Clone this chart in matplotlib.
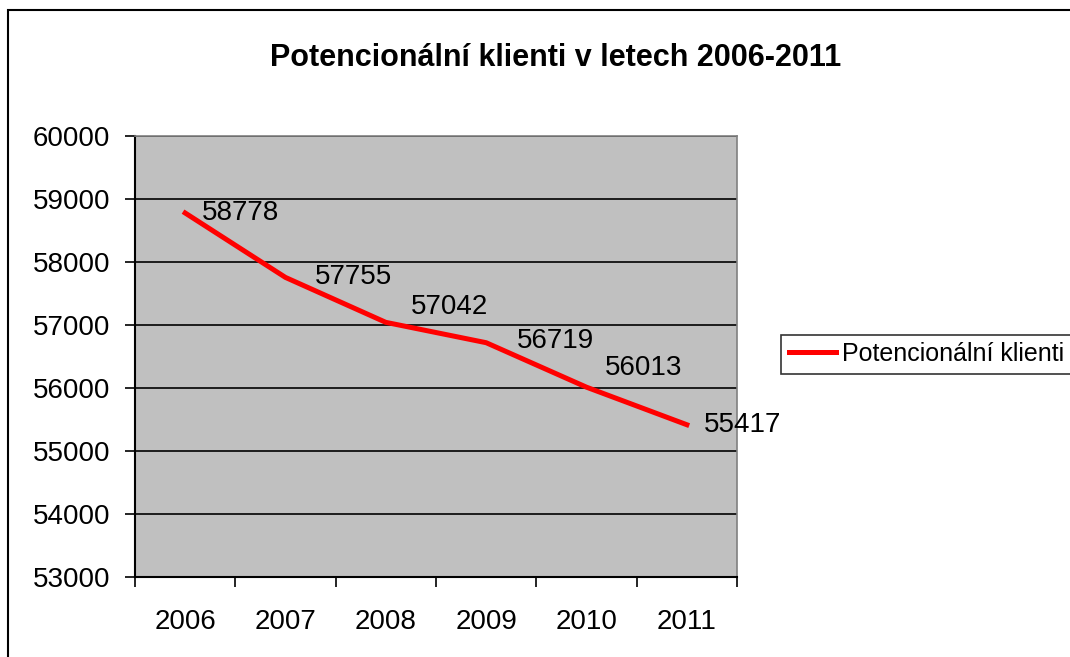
import matplotlib
matplotlib.use("Agg")
import matplotlib.pyplot as plt
from matplotlib.patches import Rectangle

years = ["2006", "2007", "2008", "2009", "2010", "2011"]
values = [58778, 57755, 57042, 56719, 56013, 55417]
series_name = "Potencionální klienti"
title = "Potencionální klienti v letech 2006-2011"
yticks = [53000, 54000, 55000, 56000, 57000, 58000, 59000, 60000]

plt.rcParams['font.family'] = ['Liberation Sans', 'DejaVu Sans']

fig = plt.figure(figsize=(10.7, 6.57), dpi=100)
fig.patch.set_facecolor('white')
# outer chart border
fig.patches.append(Rectangle((8/1070, -0.05), 1.2, 1 - 10/657 + 0.05,
                             transform=fig.transFigure, fill=False,
                             edgecolor='black', linewidth=1.5))

ax = fig.add_axes([135/1070, 1 - 577/657, (737 - 135)/1070, (577 - 136)/657])
ax.set_facecolor('#C0C0C0')

x = [i + 0.5 for i in range(len(years))]
line, = ax.plot(x, values, color='#FF0000', linewidth=3.6, label=series_name,
                solid_joinstyle='round')

# label offsets in pixels (dx right, dy up), as placed in the reference
label_offsets_px = [(17, 0), (29, 0), (25, 15), (31, 2), (18, 19), (17, 0)]
for xi, v, (dx, dy) in zip(x, values, label_offsets_px):
    ax.annotate(str(v), (xi, v), xytext=(dx * 0.72, dy * 0.72),
                textcoords='offset points',
                ha='left', va='center', fontsize=20, color='black')

ax.set_xlim(0, len(years))
ax.set_ylim(53000, 60000)
ax.set_yticks(yticks)
ax.set_yticklabels([str(t) for t in yticks], fontsize=20)
ax.set_xticks(range(len(years) + 1))
ax.set_xticklabels([])
ax.set_xticks(x, minor=True)
ax.set_xticklabels(years, minor=True, fontsize=20)
ax.tick_params(axis='x', which='minor', length=0, pad=23)
ax.tick_params(axis='x', which='major', length=7, width=1.2, direction='out')
ax.tick_params(axis='y', length=7, width=1.2, direction='out', pad=11)

ax.yaxis.grid(True, color='black', linewidth=1.2)
ax.set_axisbelow(True)
for s in ['top', 'right']:
    ax.spines[s].set_color('#808080')
    ax.spines[s].set_linewidth(1.2)
for s in ['left', 'bottom']:
    ax.spines[s].set_color('black')
    ax.spines[s].set_linewidth(1.5)

fig.text(556/1070, 1 - 58/657, title, ha='center', va='center',
         fontsize=22, fontweight='bold')

leg = fig.legend(handles=[line], loc='center left',
                 bbox_to_anchor=(781/1070, 1 - 354/657), fontsize=18,
                 frameon=True, fancybox=False, edgecolor='black',
                 handlelength=1.9, borderpad=0.3, handletextpad=0.25,
                 borderaxespad=0)
leg.get_frame().set_linewidth(1.2)

fig.savefig('out.png', dpi=100)
